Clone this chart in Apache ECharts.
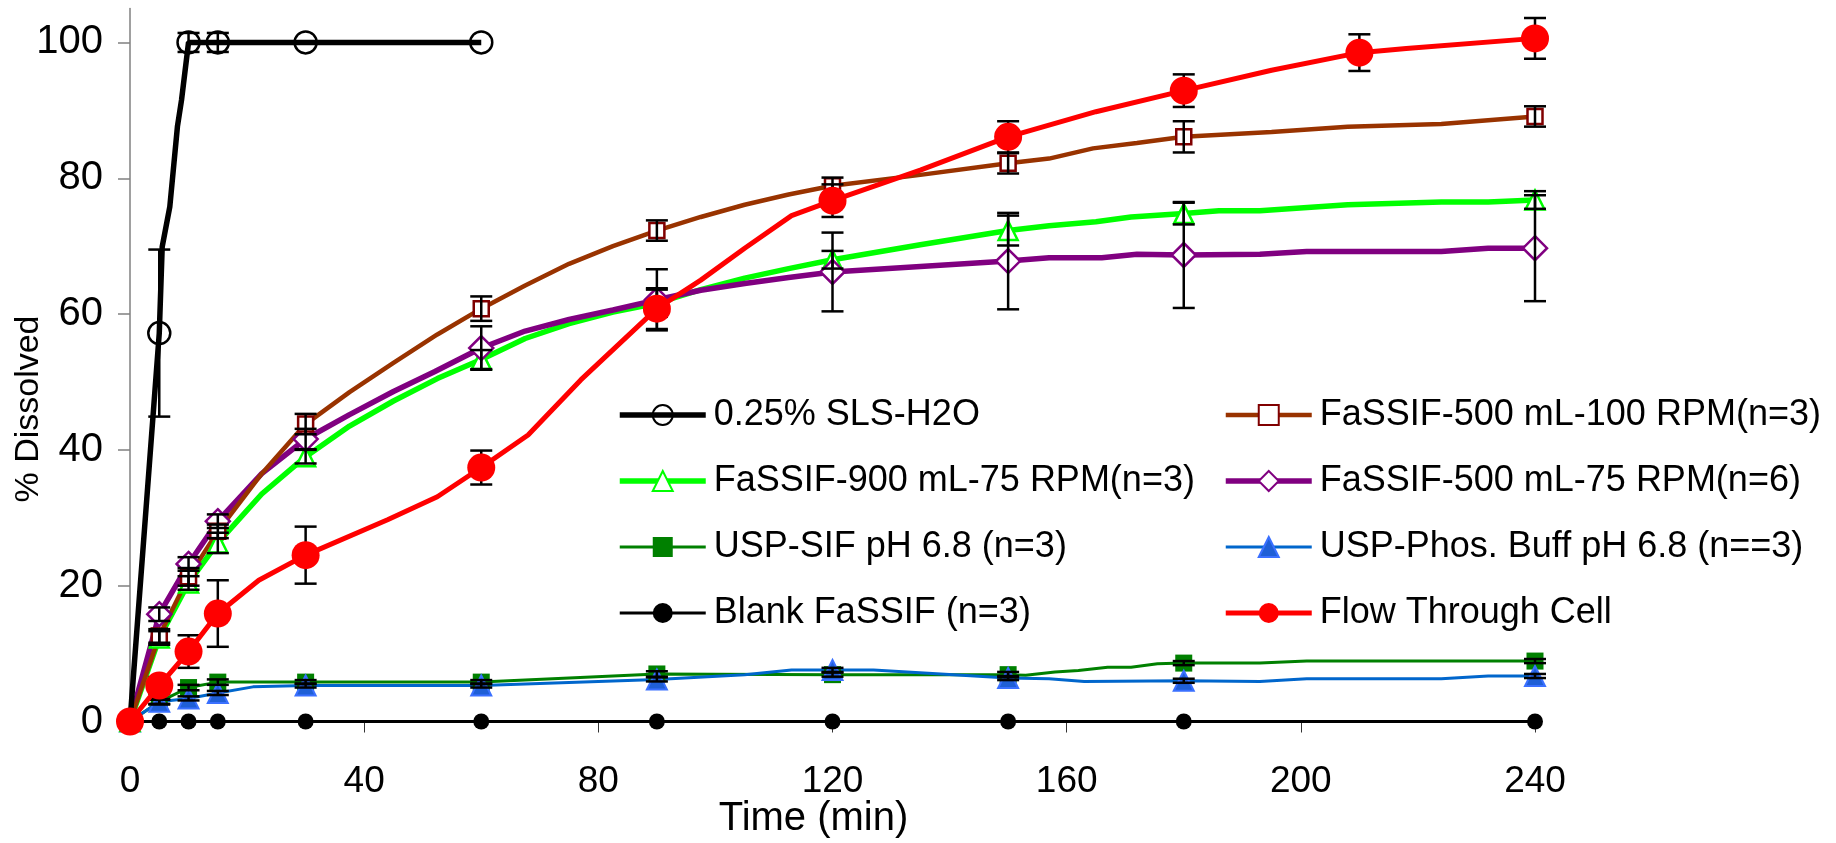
<!DOCTYPE html>
<html><head><meta charset="utf-8">
<script src="https://cdn.jsdelivr.net/npm/echarts@6/dist/echarts.min.js"></script>
<style>html,body{margin:0;padding:0;background:#fff}#c{width:1836px;height:843px}</style>
</head><body><div id="c"></div>
<script>
const FONT = '"Liberation Sans", Arial, sans-serif';

// sample times (markers)
const timesSLS = [0, 5, 10, 15, 30, 60];
const timesStd = [0, 5, 10, 15, 30, 60, 90, 120, 150, 180, 240];
const timesFTC = [0, 5, 10, 15, 30, 60, 90, 120, 150, 180, 210, 240];

// 0.25% SLS-H2O
const slsV = [0, 57.2, 100, 100, 100, 100];
const slsErr = [0, 12.3, 1.4, 1.4, 0, 0];
const slsBendT = [5.5, 6.8, 8.1, 8.8];
const slsBendV = [69.9, 75.8, 87.6, 91.5];

// FaSSIF-500 mL-100 RPM(n=3)
const f500hV = [0, 12.6, 21.3, 28.0, 43.8, 60.8, 72.3, 78.9, 82.2, 86.1, 89.1];
const f500hErr = [0, 1, 1.3, 1, 1.5, 1.8, 1.5, 1.2, 1.5, 2.3, 1.5];
const f500hBendT = [22.5, 37.5, 45, 52.5, 67.5, 75, 82.5, 97.5, 105, 112.5, 135, 157, 164.5, 172, 195, 208, 224];
const f500hBendV = [36.5, 48.5, 52.8, 57, 64.2, 67.4, 70, 74.3, 76.1, 77.6, 80.5, 82.9, 84.4, 85.2, 86.8, 87.6, 88.0];

// FaSSIF-900 mL-75 RPM(n=3)
const f900V = [0, 12.3, 20.4, 26.3, 39.0, 53.3, 61.6, 68.0, 72.3, 74.8, 76.8];
const f900Err = [0, 1, 1, 1.5, 1, 1.4, 2, 1.3, 2.2, 1.6, 1.3];
const f900BendT = [22.5, 37.5, 45, 52.5, 67.5, 75, 82.5, 97.5, 105, 112.5, 135, 157, 165, 171, 186, 193, 208, 224, 232];
const f900BendV = [33.5, 43.5, 47.2, 50.5, 56.4, 58.6, 60.3, 63.6, 65.3, 66.7, 70.2, 73.0, 73.6, 74.3, 75.2, 75.2, 76.1, 76.5, 76.5];

// FaSSIF-500 mL-75 RPM(n=6)
const f500lV = [0, 15.8, 23.2, 29.5, 41.6, 55.0, 62.1, 66.2, 67.8, 68.7, 69.7];
const f500lErr = [0, 1, 1, 1, 1.5, 3.2, 4.5, 5.8, 7.1, 7.8, 7.8];
const f500lBendT = [22.5, 37.5, 45, 52, 67.5, 75, 82.5, 97.5, 105, 112.5, 135, 157, 166, 172, 193, 201, 224, 232];
const f500lBendV = [36.5, 45.2, 48.6, 51.5, 57.5, 59.2, 60.6, 63.5, 64.5, 65.4, 67.0, 68.3, 68.3, 68.8, 68.8, 69.2, 69.2, 69.7];

// USP-SIF pH 6.8 (n=3)
const sifV = [0, 2.9, 5.0, 5.8, 5.8, 5.8, 7.0, 6.9, 6.9, 8.6, 8.9];
const sifErr = [0, 0.4, 0.4, 0.4, 0.3, 0.3, 0.4, 0.3, 0.4, 0.3, 0.3];
const sifBendT = [75, 153, 158, 162, 167, 171, 175.5, 193, 201];
const sifBendV = [6.4, 6.8, 7.3, 7.5, 8.0, 8.0, 8.5, 8.6, 8.9];

// USP-Phos. Buff pH 6.8 (n==3)
const phosV = [0, 2.9, 3.4, 4.2, 5.3, 5.3, 6.2, 7.6, 6.4, 6.0, 6.7];
const phosErr = [0, 0.3, 0.3, 0.3, 0.3, 0.3, 0.3, 0.3, 0.3, 0.3, 0.3];
const phosBendT = [21, 105, 113, 127, 157, 163, 193, 201, 224, 232];
const phosBendV = [5.1, 6.9, 7.6, 7.6, 6.3, 5.9, 5.9, 6.3, 6.3, 6.7];

// Blank FaSSIF (n=3)
const blankV = [0, 0, 0, 0, 0, 0, 0, 0, 0, 0, 0];

// Flow Through Cell
const ftcV = [0, 5.3, 10.3, 15.9, 24.5, 37.4, 60.8, 76.7, 86.1, 92.9, 98.5, 100.6];
const ftcErr = [0, 1.2, 2.4, 4.9, 4.2, 2.5, 3, 2.4, 2.3, 2.4, 2.7, 3];
const ftcBendT = [22, 44, 52.5, 68, 77, 97.5, 105, 113, 135, 165, 195, 218];
const ftcBendV = [20.8, 29.7, 33.1, 42.2, 50.3, 65.0, 69.7, 74.5, 81.2, 89.8, 95.9, 99.1];

const names = ['0.25% SLS-H2O', 'FaSSIF-500 mL-100 RPM(n=3)', 'FaSSIF-900 mL-75 RPM(n=3)', 'FaSSIF-500 mL-75 RPM(n=6)',
  'USP-SIF pH 6.8 (n=3)', 'USP-Phos. Buff pH 6.8 (n==3)', 'Blank FaSSIF (n=3)', 'Flow Through Cell'];
const lineW = [5.5, 4.5, 5.5, 5.5, 3, 3, 3, 5];

function pts(times, vals, bt, bv) {
  const arr = times.map((t, i) => ({ value: [t, vals[i]] }));
  (bt || []).forEach((t, i) => arr.push({ value: [t, bv[i]], symbol: 'none' }));
  arr.sort((a, b) => a.value[0] - b.value[0]);
  return arr;
}
function errs(times, vals, e) {
  const out = [];
  times.forEach((t, i) => { if (e[i] > 0) out.push([t, vals[i] - e[i], vals[i] + e[i]]); });
  return out;
}
const errData = [].concat(
  errs(timesSLS, slsV, slsErr), errs(timesStd, f500hV, f500hErr), errs(timesStd, f900V, f900Err),
  errs(timesStd, f500lV, f500lErr), errs(timesStd, sifV, sifErr), errs(timesStd, phosV, phosErr),
  errs(timesFTC, ftcV, ftcErr));

function lineSeries(idx, data, o) {
  return {
    name: names[idx], type: 'line', data, showAllSymbol: true, animation: false,
    symbol: o.symbol, symbolSize: o.size, z: o.z || 2,
    lineStyle: { color: o.line, width: lineW[idx] },
    itemStyle: { color: o.fill, borderColor: o.border, borderWidth: o.bw },
    emphasis: { disabled: true }
  };
}

const series = [
  lineSeries(6, pts(timesStd, blankV), { symbol: 'circle', size: 16, line: '#000', fill: '#000', border: '#000', bw: 0 }),
  lineSeries(4, pts(timesStd, sifV, sifBendT, sifBendV), { symbol: 'rect', size: 17, line: '#008000', fill: '#008000', border: '#008000', bw: 0 }),
  lineSeries(5, pts(timesStd, phosV, phosBendT, phosBendV), { symbol: 'triangle', size: 20, line: '#0066cc', fill: '#1f5fd6', border: '#3a70ff', bw: 2 }),
  lineSeries(2, pts(timesStd, f900V, f900BendT, f900BendV), { symbol: 'triangle', size: 19, line: '#00ff00', fill: '#fff', border: '#00ff00', bw: 2.5 }),
  lineSeries(3, pts(timesStd, f500lV, f500lBendT, f500lBendV), { symbol: 'diamond', size: 24, line: '#800080', fill: '#fff', border: '#800080', bw: 2.5 }),
  lineSeries(1, pts(timesStd, f500hV, f500hBendT, f500hBendV), { symbol: 'rect', size: 15, line: '#993300', fill: '#fff', border: '#800000', bw: 2.5 }),
  lineSeries(0, pts(timesSLS, slsV, slsBendT, slsBendV), { symbol: 'circle', size: 22, line: '#000', fill: 'rgba(255,255,255,0)', border: '#000', bw: 2.5 }),
  {
    type: 'custom', name: 'err', data: errData, z: 3, animation: false, silent: true,
    encode: { x: 0, y: [1, 2] },
    renderItem: function (params, api) {
      const t = api.value(0), lo = api.value(1), hi = api.value(2);
      const a = api.coord([t, lo]), b = api.coord([t, hi]);
      const w = 11, st = { stroke: '#000', lineWidth: 2.5 };
      return { type: 'group', children: [
        { type: 'line', shape: { x1: a[0], y1: a[1], x2: b[0], y2: b[1] }, style: st },
        { type: 'line', shape: { x1: a[0] - w, y1: a[1], x2: a[0] + w, y2: a[1] }, style: st },
        { type: 'line', shape: { x1: b[0] - w, y1: b[1], x2: b[0] + w, y2: b[1] }, style: st }
      ] };
    }
  },
  lineSeries(7, pts(timesFTC, ftcV, ftcBendT, ftcBendV), { symbol: 'circle', size: 28, line: '#ff0000', fill: '#ff0000', border: '#ff0000', bw: 0, z: 4 })
];

function legendItems(idxs) {
  return idxs.map(i => ({ name: names[i], lineStyle: { width: lineW[i] } }));
}
const legendCommon = {
  orient: 'vertical', top: 390, itemWidth: 86, itemHeight: 25, itemGap: 26,
  selectedMode: false,
  textStyle: { fontFamily: FONT, fontSize: 36, color: '#000', lineHeight: 40, padding: [0, 0, 0, 3] }
};

const chart = echarts.init(document.getElementById('c'), null, { renderer: 'canvas' });
chart.setOption({
  backgroundColor: '#fff',
  animation: false,
  grid: { left: 130, right: 301, top: 8.5, bottom: 121.5, containLabel: false, outerBoundsMode: 'none' },
  xAxis: {
    type: 'value', min: 0, max: 240, interval: 40,
    name: 'Time (min)', nameLocation: 'middle', nameGap: 77, nameMoveOverlap: false,
    nameTextStyle: { fontFamily: FONT, fontSize: 40, color: '#000', padding: [0, 38, 0, 0] },
    axisLine: { show: true, onZero: false, lineStyle: { color: '#000', width: 1 } },
    axisTick: { show: true, length: 11, lineStyle: { color: '#333', width: 1 } },
    axisLabel: { fontFamily: FONT, fontSize: 37, color: '#000', margin: 42 },
    splitLine: { show: false }
  },
  yAxis: {
    type: 'value', min: 0, max: 105, interval: 20,
    name: '% Dissolved', nameLocation: 'middle', nameGap: 84, nameRotate: 90, nameMoveOverlap: false,
    nameTextStyle: { fontFamily: FONT, fontSize: 34, color: '#000', padding: [0, 88, 0, 0] },
    axisLine: { show: true, lineStyle: { color: '#808080', width: 1.5 } },
    axisTick: { show: true, length: 12, lineStyle: { color: '#808080', width: 1.5 } },
    axisLabel: { fontFamily: FONT, fontSize: 40, color: '#000', margin: 27, showMaxLabel: false },
    splitLine: { show: false }
  },
  legend: [
    Object.assign({}, legendCommon, { left: 612, data: legendItems([0, 2, 4, 6]) }),
    Object.assign({}, legendCommon, { left: 1218, data: legendItems([1, 3, 5, 7]) })
  ],
  series
});
</script>
</body></html>
